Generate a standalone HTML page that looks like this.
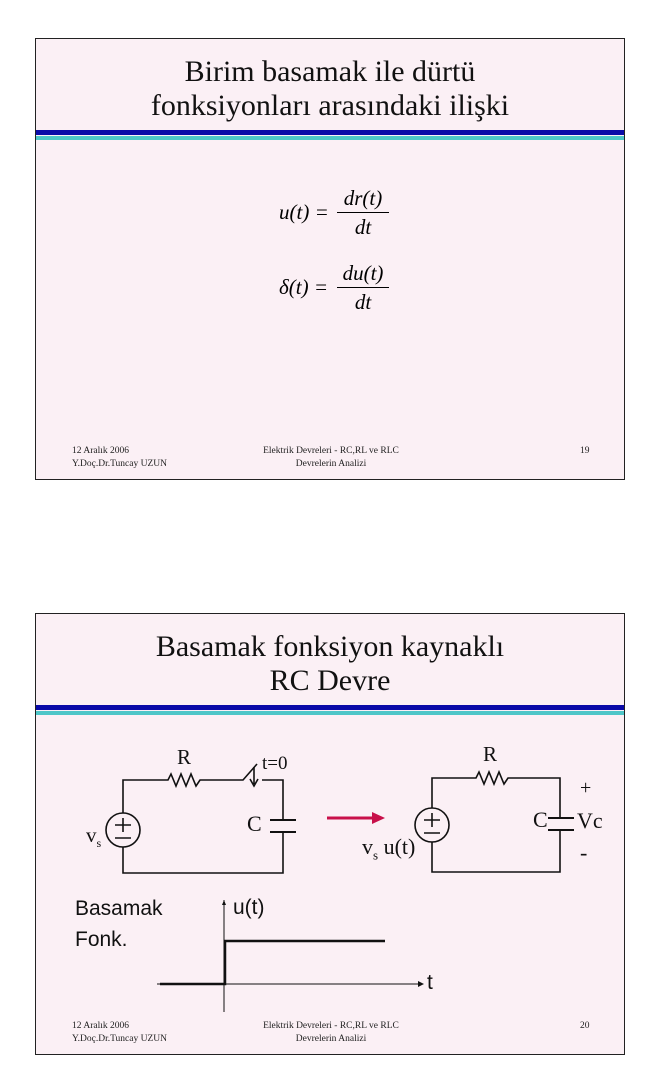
<!DOCTYPE html>
<html><head><meta charset="utf-8"><style>
body{margin:0;background:#fff;width:660px;height:1079px;position:relative;overflow:hidden;font-family:"Liberation Serif",serif;}
.sl{position:absolute;left:35px;width:588px;height:440px;border:1px solid #222;background:#fbf0f5;}
.t{position:absolute;left:0;width:100%;text-align:center;font-size:30px;color:#111;line-height:34px;}
.b1{position:absolute;left:0;width:100%;height:5px;background:#0a0aa8;}
.b2{position:absolute;left:0;width:100%;height:4px;background:#4ec6c8;}
.f{position:absolute;font-size:9.5px;color:#222;line-height:13px;}
.a{position:absolute;font-family:"Liberation Serif",serif;font-size:21px;color:#111;line-height:24px;}
.s{font-family:"Liberation Sans",sans-serif;}
</style></head><body>
<div class="sl" style="top:38px">
 <div class="t" style="top:16px">Birim basamak ile dürtü<br>fonksiyonları arasındaki ilişki</div>
 <div class="b1" style="top:91px"></div><div class="b2" style="top:97px"></div>
 <div style="position:absolute;left:243px;top:161px;font-size:21px;font-style:italic">u(t) =</div>
 <div style="position:absolute;left:301px;top:147px;font-size:21px;font-style:italic;text-align:center;width:52px;line-height:24px">dr(t)<div style="border-top:1px solid #000;margin:2px 0"></div>dt</div>
 <div style="position:absolute;left:243px;top:236px;font-size:21px;font-style:italic">δ(t) =</div>
 <div style="position:absolute;left:301px;top:222px;font-size:21px;font-style:italic;text-align:center;width:52px;line-height:24px">du(t)<div style="border-top:1px solid #000;margin:2px 0"></div>dt</div>
 <div class="f" style="left:36px;top:406px">12 Aralık 2006<br>Y.Doç.Dr.Tuncay UZUN</div>
 <div class="f" style="left:200px;top:406px;width:190px;text-align:center">Elektrik Devreleri - RC,RL ve RLC<br>Devrelerin Analizi</div>
 <div class="f" style="left:544px;top:406px">19</div>
</div>
<div class="sl" style="top:613px">
 <div class="t" style="top:16px">Basamak fonksiyon kaynaklı<br>RC Devre</div>
 <div class="b1" style="top:91px"></div><div class="b2" style="top:97px"></div>
 <div class="f" style="left:36px;top:406px">12 Aralık 2006<br>Y.Doç.Dr.Tuncay UZUN</div>
 <div class="f" style="left:200px;top:406px;width:190px;text-align:center">Elektrik Devreleri - RC,RL ve RLC<br>Devrelerin Analizi</div>
 <div class="f" style="left:544px;top:406px">20</div>
</div>
<svg width="660" height="1079" style="position:absolute;left:0;top:0" fill="none" stroke="#111" stroke-width="1.6">
 <path d="M123 813V780H168l3-6 5 12 5-12 5 12 5-12 5 12 4-6H243l14-16"/>
 <path d="M262 780h21v40M283 832v41H123V847"/>
 <path d="M270 820h26M270 832h26" stroke-width="2"/>
 <path d="M254 767v17M250 779l4 7 4-7"/>
 <circle cx="123" cy="830" r="17"/>
 <path d="M115 825h16M123 818v14M115 838h16"/>
 <path d="M327 818h47" stroke="#c8104a" stroke-width="3"/>
 <path d="M372 812l13 6-13 6z" fill="#c8104a" stroke="none"/>
 <path d="M432 808V778H476l3-6 5 12 5-12 5 12 5-12 5 12 4-6H560v40M560 830v42H432V842"/>
 <path d="M548 818h26M548 830h26" stroke-width="2"/>
 <circle cx="432" cy="825" r="17"/>
 <path d="M424 820h16M432 813v14M424 833h16"/>
 <path d="M224 900V1012M157 984H418" stroke-width="1"/>
 <path d="M418 981l6 3-6 3z" fill="#111" stroke="none"/>
 <path d="M224 900l-2 5h4z" fill="#111" stroke="none"/>
 <path d="M160 984H225V941H385" stroke-width="2.5"/>
</svg>
<div class="a" style="left:177px;top:745px">R</div>
<div class="a" style="left:262px;top:752px;font-size:19px">t=0</div>
<div class="a" style="left:247px;top:812px;font-size:22px">C</div>
<div class="a" style="left:86px;top:823px">v<sub style="font-size:12px">s</sub></div>
<div class="a" style="left:483px;top:742px">R</div>
<div class="a" style="left:533px;top:808px;font-size:22px">C</div>
<div class="a" style="left:580px;top:776px;font-size:20px">+</div>
<div class="a" style="left:577px;top:809px;font-size:22px">Vc</div>
<div class="a" style="left:580px;top:841px;font-size:22px">-</div>
<div class="a" style="left:362px;top:835px;font-size:22px">v<sub style="font-size:13px">s</sub> u(t)</div>
<div class="a s" style="left:75px;top:897px">Basamak</div>
<div class="a s" style="left:75px;top:928px">Fonk.</div>
<div class="a s" style="left:233px;top:896px">u(t)</div>
<div class="a s" style="left:427px;top:971px">t</div>
</body></html>
